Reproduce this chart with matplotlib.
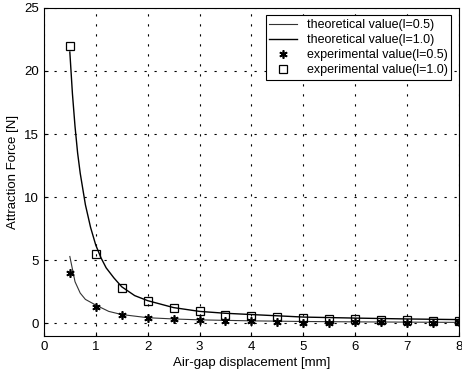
import numpy as np
import matplotlib.pyplot as plt

plt.rcParams['font.family'] = ['Liberation Sans', 'DejaVu Sans']

# theoretical curves
x_th1 = [0.5, 0.55, 0.6, 0.65, 0.7, 0.8, 0.9, 1.0, 1.1, 1.2, 1.35, 1.5, 1.75,
         2.0, 2.5, 3.0, 3.5, 4.0, 4.5, 5.0, 6.0, 7.0, 8.0]
f_th1 = [21.5, 18.2, 15.6, 13.5, 11.9, 9.4, 7.6, 6.2, 5.2, 4.4, 3.6, 2.9, 2.2,
         1.8, 1.25, 0.95, 0.8, 0.7, 0.6, 0.5, 0.42, 0.35, 0.3]
x_th05 = [0.5, 0.6, 0.7, 0.8, 1.0, 1.25, 1.5, 2.0, 2.5, 3.0, 4.0, 5.0, 6.0, 7.0, 8.0]
f_th05 = [5.3, 3.3, 2.4, 1.9, 1.45, 0.95, 0.7, 0.45, 0.35, 0.28, 0.2, 0.15, 0.12, 0.1, 0.08]

# experimental points
x_exp = [0.5, 1.0, 1.5, 2.0, 2.5, 3.0, 3.5, 4.0, 4.5, 5.0, 5.5, 6.0, 6.5, 7.0, 7.5, 8.0]
f_exp05 = [4.0, 1.3, 0.7, 0.45, 0.35, 0.25, 0.2, 0.15, 0.12, 0.05, 0.05, 0.1, 0.1, 0.05, 0.05, 0.1]
f_exp1 = [22.0, 5.5, 2.8, 1.8, 1.2, 0.95, 0.7, 0.6, 0.5, 0.45, 0.35, 0.35, 0.3, 0.25, 0.2, 0.15]

fig = plt.figure(figsize=(4.62, 3.74), dpi=100)
ax = fig.add_axes([0.095, 0.1016, 0.8985, 0.8774])

ax.plot(x_th05, f_th05, color='#333333', lw=0.8, label='theoretical value(l=0.5)')
ax.plot(x_th1, f_th1, color='black', lw=1.0, label='theoretical value(l=1.0)')
ax.plot(x_exp, f_exp05, ls='none', marker=(6, 2, 0), ms=6, mec='black', mew=1.2,
        label='experimental value(l=0.5)')
ax.plot(x_exp, f_exp1, ls='none', marker='s', ms=5.5, mfc='none', mec='black', mew=0.9,
        label='experimental value(l=1.0)')

ax.set_xlim(0, 8)
ax.set_ylim(-1, 25)
ax.set_xticks(np.arange(0, 9, 1))
ax.set_yticks([0, 5, 10, 15, 20, 25])
ax.tick_params(direction='in', labelsize=9.5, length=3)
ax.grid(True, color='black', lw=0.8, ls=(0, (2, 7)))

ax.set_xlabel('Air-gap displacement [mm]', fontsize=9.5, labelpad=3)
ax.set_ylabel('Attraction Force [N]', fontsize=9.5, labelpad=4)

leg = ax.legend(loc='upper right', fontsize=9, frameon=True, fancybox=False,
                edgecolor='black', framealpha=1, borderaxespad=0.6,
                handlelength=2.2, labelspacing=0.25, borderpad=0.3)
leg.get_frame().set_linewidth(0.8)

fig.savefig('out.png', dpi=100)
